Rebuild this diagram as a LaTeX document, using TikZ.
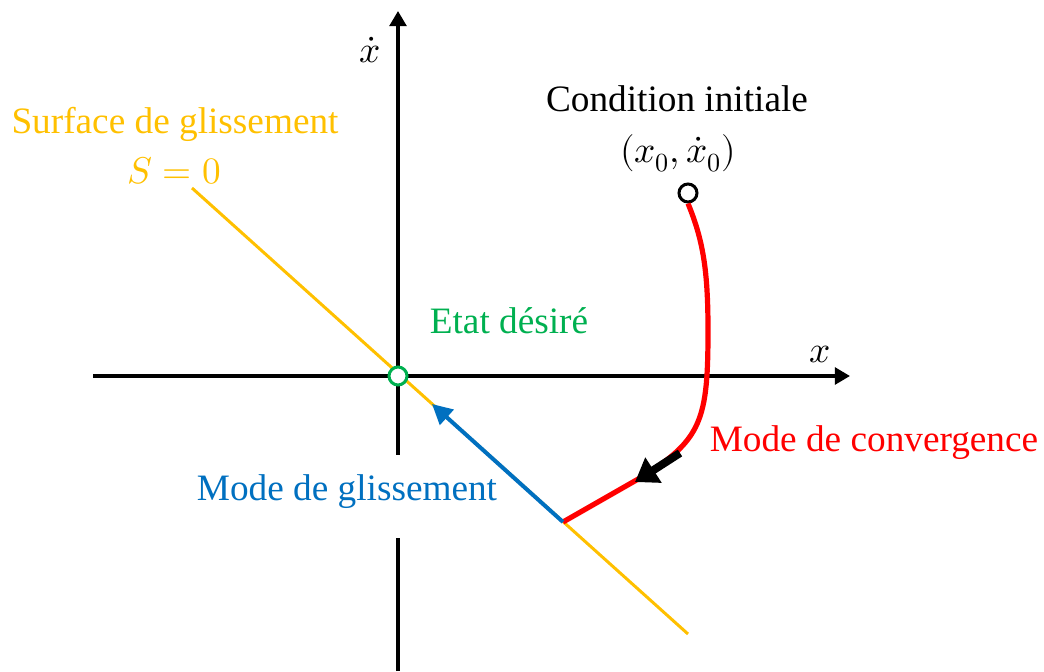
\documentclass[tikz,border=0pt]{standalone}
\usepackage{fontspec}
\usepackage{unicode-math}
\setmainfont{Liberation Serif}
\setmathfont{Latin Modern Math}
\usepackage{tikz}
\usetikzlibrary{arrows.meta}
\definecolor{surfyellow}{HTML}{FFC000}
\definecolor{etatgreen}{HTML}{00B050}
\definecolor{glisblue}{HTML}{0070C0}
\definecolor{convred}{HTML}{FF0000}

\begin{document}
\begin{tikzpicture}[
      x=0.025cm, y=-0.025cm,
      lbl/.style={font=\fontsize{26.5}{30}\selectfont, anchor=base, inner sep=0pt},
      axis/.style={line width=0.09cm, -{Triangle[length=0.38cm,width=0.42cm]}},
      dot/.style={circle, draw, line width=0.075cm, fill=white, minimum size=0.45cm, inner sep=0pt}
  ]
    \useasboundingbox (0,0) rectangle (1044,671);
    % axes
    \coordinate (xmin) at (93,376);
    \coordinate (xmax) at (850,376);
    \coordinate (ybot) at (398,671);
    \coordinate (ytop) at (398,11);
    \draw[axis] (xmin) -- (xmax);
    \draw[axis] (ybot) -- (ytop);
    \node[lbl] (xlab) at (820,362) {$x$};
    \node[lbl] (xdlab) at (370,62) {$\dot{x}$};
    % label hiding part of the vertical axis
    \node[lbl, fill=white, text height=1.125cm, text depth=0.95cm, inner xsep=0.1cm, text=glisblue] (glislab) at (347,500) {Mode de glissement};
    % sliding surface
    \coordinate (sa) at (192,188);
    \coordinate (sb) at (688,634);
    \draw[surfyellow, line width=0.075cm] (sa) -- (sb);
    \node[lbl, text=surfyellow] (surflab) at (175,133) {Surface de glissement};
    \node[lbl, text=surfyellow] (slab) at (174,183) {$S=0$};
    % trajectory
    \node[dot, draw=black] (init) at (688,193) {};
    \coordinate (hit) at (563,522);
    \coordinate (gtip) at (432,404);
    \draw[convred, line width=0.13cm] (init.south) .. controls (703,240) and (708,270) .. (708,330)
        .. controls (708,420) and (702,440) .. (640,478) -- (hit);
    \draw[glisblue, line width=0.1cm, -{Triangle[length=0.5cm,width=0.5cm]}] (hit) -- (gtip);
    \coordinate (cva) at (680,453);
    \coordinate (cvb) at (635,482);
    \draw[line width=0.2cm, -{Triangle[length=0.55cm,width=0.72cm]}] (cva) -- (cvb);
    \node[dot, draw=etatgreen] (orig) at (398,376) {};
    % labels
    \node[lbl] (initlab) at (677,111) {Condition initiale};
    \node[lbl] (x0lab) at (678,162) {$(x_0,\dot{x}_0)$};
    \node[lbl, text=etatgreen] (etatlab) at (509,333) {Etat désiré};
    \node[lbl, text=convred] (convlab) at (874,451) {Mode de convergence};
  \end{tikzpicture}
\end{document}
